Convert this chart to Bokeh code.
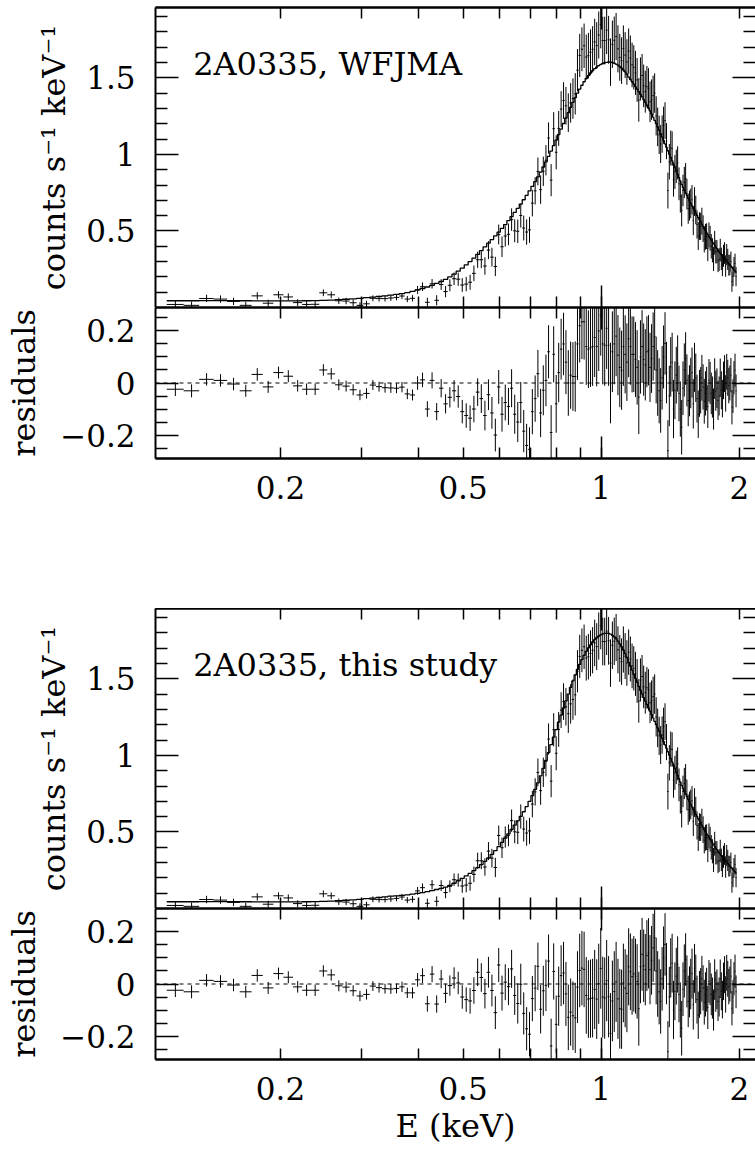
import numpy as np
from bokeh.plotting import figure
from bokeh.models import (LogAxis, LinearAxis, FixedTicker, Range1d, Span, Label,
                          CustomJSTickFormatter)
from bokeh.layouts import column
from bokeh.embed import file_html
from bokeh.resources import INLINE

# ---------------- data ----------------
energy = [
    0.118, 0.128, 0.138, 0.148, 0.158, 0.168, 0.178, 0.188, 0.198, 0.208,
    0.218, 0.228, 0.238, 0.248, 0.258, 0.268, 0.278, 0.288, 0.298, 0.308,
    0.318, 0.328, 0.338, 0.348, 0.358, 0.368, 0.378, 0.388, 0.398, 0.408,
    0.418, 0.428, 0.438, 0.448, 0.458, 0.468, 0.478, 0.488, 0.498, 0.508,
    0.518, 0.528, 0.538, 0.548, 0.558, 0.568, 0.578, 0.588, 0.598, 0.608,
    0.618, 0.628, 0.638, 0.648, 0.658, 0.668, 0.678, 0.688, 0.698, 0.708,
    0.718, 0.728, 0.738, 0.748, 0.758, 0.768, 0.778, 0.788, 0.798, 0.808,
    0.818, 0.828, 0.838, 0.848, 0.858, 0.868, 0.878, 0.888, 0.898, 0.908,
    0.918, 0.928, 0.938, 0.948, 0.958, 0.968, 0.978, 0.988, 0.998, 1.008,
    1.018, 1.028, 1.038, 1.048, 1.058, 1.068, 1.078, 1.088, 1.098, 1.108,
    1.118, 1.128, 1.138, 1.148, 1.158, 1.168, 1.178, 1.188, 1.198, 1.208,
    1.218, 1.228, 1.238, 1.248, 1.258, 1.268, 1.278, 1.288, 1.298, 1.308,
    1.318, 1.328, 1.338, 1.348, 1.358, 1.368, 1.378, 1.388, 1.398, 1.408,
    1.418, 1.428, 1.438, 1.448, 1.458, 1.468, 1.478, 1.488, 1.498, 1.508,
    1.518, 1.528, 1.538, 1.548, 1.558, 1.568, 1.578, 1.588, 1.598, 1.608,
    1.618, 1.628, 1.638, 1.648, 1.658, 1.668, 1.678, 1.688, 1.698, 1.708,
    1.718, 1.728, 1.738, 1.748, 1.758, 1.768, 1.778, 1.788, 1.798, 1.808,
    1.818, 1.828, 1.838, 1.848, 1.858, 1.868, 1.878, 1.888, 1.898, 1.908,
    1.918, 1.928, 1.938, 1.948, 1.958, 1.968,
]
bin_half_width = 0.005

model_wfjma = [
    0.044, 0.044, 0.045, 0.045, 0.044, 0.044, 0.043, 0.043, 0.043, 0.043,
    0.043, 0.044, 0.045, 0.046, 0.048, 0.051, 0.054, 0.057, 0.060, 0.064,
    0.068, 0.072, 0.076, 0.081, 0.086, 0.091, 0.097, 0.106, 0.115, 0.124,
    0.134, 0.145, 0.157, 0.170, 0.184, 0.200, 0.218, 0.237, 0.257, 0.278,
    0.300, 0.323, 0.347, 0.372, 0.396, 0.420, 0.444, 0.468, 0.492, 0.517,
    0.542, 0.568, 0.594, 0.621, 0.648, 0.676, 0.704, 0.733, 0.762, 0.792,
    0.822, 0.853, 0.885, 0.918, 0.952, 0.987, 1.022, 1.058, 1.094, 1.130,
    1.166, 1.202, 1.238, 1.273, 1.307, 1.340, 1.371, 1.400, 1.427, 1.452,
    1.475, 1.496, 1.515, 1.532, 1.547, 1.560, 1.571, 1.580, 1.588, 1.594,
    1.599, 1.602, 1.604, 1.603, 1.600, 1.596, 1.590, 1.583, 1.574, 1.564,
    1.552, 1.539, 1.524, 1.505, 1.490, 1.475, 1.459, 1.443, 1.427, 1.410,
    1.393, 1.376, 1.358, 1.340, 1.322, 1.303, 1.284, 1.264, 1.244, 1.223,
    1.202, 1.180, 1.158, 1.135, 1.113, 1.091, 1.069, 1.047, 1.024, 1.002,
    0.980, 0.958, 0.936, 0.914, 0.892, 0.870, 0.848, 0.826, 0.804, 0.785,
    0.767, 0.749, 0.731, 0.713, 0.696, 0.680, 0.664, 0.648, 0.632, 0.617,
    0.602, 0.587, 0.572, 0.558, 0.544, 0.530, 0.516, 0.502, 0.488, 0.476,
    0.464, 0.452, 0.440, 0.428, 0.417, 0.406, 0.395, 0.384, 0.373, 0.364,
    0.355, 0.346, 0.337, 0.328, 0.320, 0.311, 0.303, 0.294, 0.286, 0.278,
    0.270, 0.262, 0.254, 0.246, 0.239, 0.232,
]

model_this = [
    0.044, 0.044, 0.045, 0.045, 0.044, 0.044, 0.043, 0.043, 0.043, 0.043,
    0.043, 0.044, 0.045, 0.046, 0.048, 0.051, 0.054, 0.057, 0.060, 0.064,
    0.068, 0.072, 0.076, 0.081, 0.083, 0.086, 0.089, 0.094, 0.099, 0.104,
    0.110, 0.117, 0.124, 0.131, 0.140, 0.151, 0.165, 0.181, 0.197, 0.213,
    0.230, 0.248, 0.267, 0.287, 0.308, 0.330, 0.354, 0.378, 0.404, 0.432,
    0.460, 0.488, 0.516, 0.545, 0.573, 0.602, 0.632, 0.665, 0.700, 0.738,
    0.778, 0.821, 0.867, 0.916, 0.967, 1.019, 1.070, 1.120, 1.169, 1.217,
    1.264, 1.310, 1.356, 1.401, 1.445, 1.487, 1.526, 1.562, 1.595, 1.626,
    1.654, 1.680, 1.703, 1.723, 1.741, 1.756, 1.769, 1.779, 1.788, 1.794,
    1.798, 1.799, 1.798, 1.793, 1.785, 1.775, 1.762, 1.747, 1.729, 1.710,
    1.688, 1.665, 1.640, 1.609, 1.583, 1.557, 1.530, 1.503, 1.477, 1.451,
    1.426, 1.402, 1.378, 1.355, 1.333, 1.311, 1.289, 1.267, 1.245, 1.223,
    1.202, 1.180, 1.158, 1.135, 1.113, 1.091, 1.069, 1.047, 1.024, 1.002,
    0.980, 0.958, 0.936, 0.914, 0.892, 0.870, 0.848, 0.826, 0.804, 0.785,
    0.767, 0.749, 0.731, 0.713, 0.696, 0.680, 0.664, 0.648, 0.632, 0.617,
    0.602, 0.587, 0.572, 0.558, 0.544, 0.530, 0.516, 0.502, 0.488, 0.476,
    0.464, 0.452, 0.440, 0.428, 0.417, 0.406, 0.395, 0.384, 0.373, 0.364,
    0.355, 0.346, 0.337, 0.328, 0.320, 0.311, 0.303, 0.294, 0.286, 0.278,
    0.270, 0.262, 0.254, 0.246, 0.239, 0.232,
]

# residuals (data - model) read from the upper (WFJMA) residual panel
resid_wfjma = [
    -0.024, -0.030, 0.014, 0.010, -0.004, -0.030, 0.033, -0.015, 0.040, 0.026,
    -0.011, -0.024, -0.024, 0.050, 0.035, -0.007, -0.012, -0.026, -0.046, -0.040,
    -0.008, -0.014, -0.018, -0.019, -0.020, -0.016, -0.042, -0.046, 0.000, 0.012,
    -0.100, 0.010, -0.110, -0.020, -0.080, -0.055, -0.030, -0.052, -0.110, -0.125,
    -0.135, -0.100, -0.035, -0.060, -0.125, -0.045, -0.115, -0.200, -0.015, -0.120,
    -0.075, -0.090, -0.020, -0.120, -0.150, -0.075, -0.185, -0.240, -0.255, -0.110,
    -0.060, 0.036, -0.115, -0.028, 0.010, 0.120, -0.190, 0.110, -0.080, 0.040,
    0.130, 0.150, 0.080, 0.000, 0.030, 0.025, 0.025, 0.150, 0.220, 0.235,
    0.235, 0.140, 0.130, 0.135, 0.140, 0.175, 0.140, 0.200, 0.260, 0.150,
    0.145, 0.210, 0.145, 0.000, 0.120, 0.150, 0.180, 0.107, 0.060, 0.049,
    0.140, 0.110, 0.080, 0.170, 0.140, 0.110, 0.110, 0.090, 0.060, -0.054,
    0.100, 0.140, 0.090, 0.070, 0.120, 0.126, 0.060, 0.094, 0.140, 0.178,
    0.050, 0.000, -0.030, -0.067, 0.020, 0.100, 0.152, 0.040, -0.260, -0.050,
    0.062, 0.080, -0.100, -0.028, 0.030, 0.075, -0.040, -0.100, -0.170, -0.020,
    0.050, 0.094, 0.010, -0.067, -0.030, 0.000, 0.040, -0.080, 0.060, 0.020,
    -0.060, -0.120, -0.040, -0.028, 0.020, -0.015, -0.070, -0.040, -0.022, -0.090,
    0.010, 0.000, -0.040, -0.054, -0.100, 0.017, -0.030, -0.020, -0.067, -0.050,
    0.020, -0.028, -0.060, 0.010, 0.036, -0.040, 0.043, 0.020, -0.010, 0.000,
    0.030, -0.093, -0.050, 0.020, 0.049, -0.030,
]

errors = [
    0.026, 0.025, 0.024, 0.024, 0.024, 0.023, 0.024, 0.023, 0.023, 0.023,
    0.022, 0.022, 0.022, 0.022, 0.022, 0.021, 0.021, 0.021, 0.020, 0.020,
    0.019, 0.019, 0.019, 0.019, 0.019, 0.020, 0.020, 0.021, 0.026, 0.028,
    0.030, 0.031, 0.033, 0.035, 0.037, 0.039, 0.041, 0.043, 0.045, 0.047,
    0.049, 0.051, 0.053, 0.055, 0.057, 0.059, 0.061, 0.063, 0.065, 0.067,
    0.069, 0.071, 0.073, 0.075, 0.077, 0.079, 0.081, 0.083, 0.085, 0.087,
    0.089, 0.091, 0.093, 0.096, 0.099, 0.102, 0.105, 0.108, 0.111, 0.114,
    0.117, 0.120, 0.123, 0.126, 0.129, 0.132, 0.135, 0.138, 0.141, 0.143,
    0.145, 0.147, 0.149, 0.150, 0.151, 0.152, 0.153, 0.154, 0.155, 0.155,
    0.156, 0.156, 0.156, 0.155, 0.155, 0.155, 0.154, 0.154, 0.153, 0.152,
    0.151, 0.150, 0.149, 0.148, 0.147, 0.146, 0.145, 0.144, 0.143, 0.142,
    0.141, 0.140, 0.139, 0.137, 0.136, 0.135, 0.133, 0.132, 0.131, 0.129,
    0.128, 0.126, 0.125, 0.124, 0.122, 0.121, 0.120, 0.118, 0.117, 0.116,
    0.114, 0.113, 0.112, 0.111, 0.109, 0.108, 0.107, 0.106, 0.105, 0.103,
    0.102, 0.101, 0.100, 0.099, 0.098, 0.097, 0.096, 0.095, 0.094, 0.093,
    0.092, 0.091, 0.090, 0.089, 0.088, 0.087, 0.086, 0.085, 0.084, 0.083,
    0.082, 0.081, 0.080, 0.079, 0.079, 0.078, 0.077, 0.076, 0.075, 0.075,
    0.074, 0.073, 0.072, 0.072, 0.071, 0.070, 0.069, 0.069, 0.068, 0.067,
    0.066, 0.066, 0.065, 0.064, 0.064, 0.063,
]

x_ticks = [0.2, 0.5, 1, 2]
x_long = [1]
x_minor = [0.3, 0.4, 0.6, 0.7, 0.8, 0.9]
spec_ticks = [0.5, 1, 1.5]
spec_minor = [0.1, 0.2, 0.3, 0.4, 0.6, 0.7, 0.8, 0.9, 1.1, 1.2, 1.3, 1.4,
              1.6, 1.7, 1.8, 1.9]
res_ticks = [-0.2, 0, 0.2]
res_minor = [-0.25, -0.15, -0.1, -0.05, 0.05, 0.1, 0.15, 0.25]

titles = ["2A0335, WFJMA", "2A0335, this study"]

# ---------------- derived arrays ----------------
E = np.array(energy)
err = np.array(errors)
m1 = np.array(model_wfjma)
m2 = np.array(model_this)
counts = m1 + np.array(resid_wfjma)
res1 = counts - m1
res2 = counts - m2
lo = E - bin_half_width
hi = E + bin_half_width
hist_x = np.column_stack([lo, hi]).ravel()

FONT = "DejaVu Serif"
XR = (0.1068, 2.17)
W = 755
LEFT = 155


def fmt():
    return CustomJSTickFormatter(code="return String(tick).replace('-', '\u2212');")


def base_style(ax, line=True):
    ax.major_tick_out = 0
    ax.minor_tick_out = 0
    ax.axis_line_width = 2
    ax.axis_line_color = "black" if line else None
    ax.major_tick_line_color = "black"
    ax.minor_tick_line_color = "black"
    ax.major_tick_line_width = 1.5
    ax.minor_tick_line_width = 1.5


def tick_axis(p, side, log, positions, length, line=True):
    """Axis without labels: ticks only (drawn as 'minor' ticks)."""
    cls = LogAxis if log else LinearAxis
    ax = cls(ticker=FixedTicker(ticks=[], minor_ticks=positions))
    base_style(ax, line)
    ax.minor_tick_in = length
    ax.major_tick_in = 0
    p.add_layout(ax, side)
    return ax


def panel(kind, height, top, bottom, xlabels, ylabel, ylabel_standoff, xlabel=None):
    yr = Range1d(0, 1.96) if kind == "spec" else Range1d(-0.29, 0.29)
    p = figure(width=W, height=height, x_axis_type="log", x_range=Range1d(*XR),
               y_range=yr, x_axis_location=None, y_axis_location=None,
               output_backend="svg", toolbar_location=None,
               min_border_left=LEFT, min_border_right=0, min_border_top=top,
               min_border_bottom=bottom)
    p.outline_line_color = None
    p.xgrid.visible = False
    p.ygrid.visible = False
    p.background_fill_color = "white"
    p.border_fill_color = "white"

    yt, ym = (spec_ticks, spec_minor) if kind == "spec" else (res_ticks, res_minor)

    # --- bottom ---
    tick_axis(p, "below", True, x_long, 22, line=True)
    if xlabels:
        b = LogAxis(ticker=FixedTicker(ticks=x_ticks, minor_ticks=x_minor),
                    formatter=fmt())
        base_style(b)
        b.major_tick_in = 11
        b.minor_tick_in = 11
        b.major_label_text_font = FONT
        b.major_label_text_font_size = "31px"
        b.major_label_text_color = "black"
        b.major_label_standoff = 17
        if xlabel:
            b.axis_label = xlabel
            b.axis_label_text_font = FONT
            b.axis_label_text_font_size = "32px"
            b.axis_label_text_font_style = "normal"
            b.axis_label_text_color = "black"
            b.axis_label_standoff = 4
        p.add_layout(b, "below")
    else:
        tick_axis(p, "below", True, x_ticks + x_minor, 11)

    # --- top ---
    tick_axis(p, "above", True, x_long, 22)
    tick_axis(p, "above", True, x_ticks + x_minor, 11)

    # --- left (labelled) ---
    l = LinearAxis(ticker=FixedTicker(ticks=yt, minor_ticks=ym), formatter=fmt())
    base_style(l)
    l.major_tick_in = 23
    l.minor_tick_in = 12
    l.major_label_text_font = FONT
    l.major_label_text_font_size = "31px"
    l.major_label_text_color = "black"
    l.major_label_standoff = 20
    l.axis_label = ylabel
    l.axis_label_text_font = FONT
    l.axis_label_text_font_size = "32px"
    l.axis_label_text_font_style = "normal"
    l.axis_label_text_color = "black"
    l.axis_label_standoff = ylabel_standoff
    p.add_layout(l, "left")

    # --- right (ticks only, frame edge beyond the picture) ---
    tick_axis(p, "right", False, yt, 23, line=False)
    tick_axis(p, "right", False, ym, 12, line=False)
    return p


def spectrum(model, title, height, top):
    p = panel("spec", height, top, 0, False, "counts s\u207b\u00b9 keV\u207b\u00b9", 10)
    p.segment(E, counts - err, E, counts + err, line_color="black", line_width=1)
    p.segment(lo, counts, hi, counts, line_color="black", line_width=1)
    p.line(hist_x, np.repeat(model, 2), line_color="black", line_width=1.3)
    p.add_layout(Label(x=0.129, y=1.59, text=title, text_font=FONT,
                       text_font_size="32px", text_color="black",
                       text_baseline="alphabetic", text_align="left"))
    return p


def residual(res, height, bottom, xlabel=None):
    p = panel("res", height, 0, bottom, True, "residuals", 14, xlabel)
    p.add_layout(Span(location=0, dimension="width", line_color="black",
                      line_dash="4 4", line_width=1))
    p.segment(E, res - err, E, res + err, line_color="black", line_width=1)
    p.segment(lo, res, hi, res, line_color="black", line_width=1)
    return p


f1 = spectrum(m1, titles[0], 307, 7)
f2 = residual(res1, 301, 150)
f3 = spectrum(m2, titles[1], 300, 0)
f4 = residual(res2, 251, 100, "E (keV)")

layout = column(f1, f2, f3, f4, spacing=0)
open("out.html", "w").write(file_html(layout, INLINE))
